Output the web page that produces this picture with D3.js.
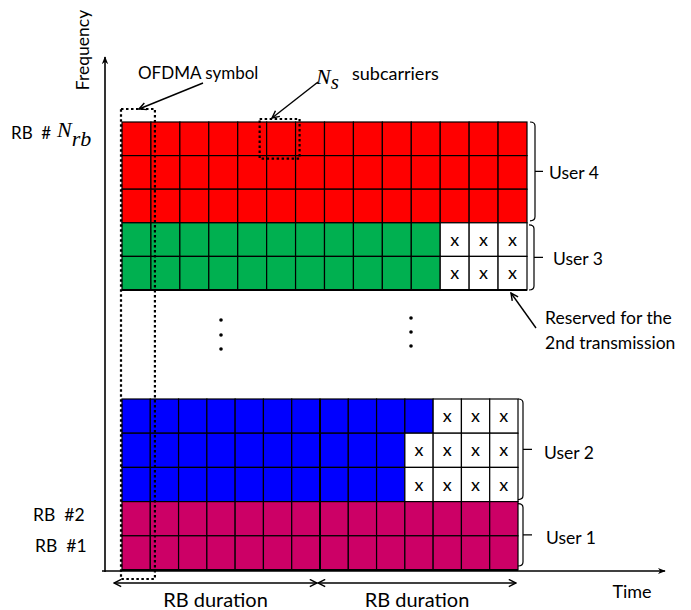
<!DOCTYPE html>
<html>
<head>
<meta charset="utf-8">
<script src="https://cdn.jsdelivr.net/npm/d3@7"></script>
<style>
  body { margin: 0; background: #fff; }
  svg { display: block; font-family: Lato, "Open Sans", sans-serif; }
  text { white-space: pre; }
</style>
</head>
<body>
<div id="chart"></div>
<script>
// OFDMA symbols in one RB-pair (two RB durations of 7 symbols)
var symbols = [1, 2, 3, 4, 5, 6, 7, 8, 9, 10, 11, 12, 13, 14];

// top block: rows from top to bottom, owner and reserved cells at the end
var topRows = ["User 4", "User 4", "User 4", "User 3", "User 3"];
var topReserved = [0, 0, 0, 3, 3];

// bottom block
var bottomRows = ["User 2", "User 2", "User 2", "User 1", "User 1"];
var bottomReserved = [3, 4, 4, 0, 0];

var userColors = {"User 1": "#CC0066", "User 2": "#0000FF", "User 3": "#00B050", "User 4": "#FF0000"};
var userNames = ["User 4", "User 3", "User 2", "User 1"];

var svg = d3.select("#chart")
  .append("svg")
  .attr("width", 691).attr("height", 610);

var defs = svg.append("defs");
defs.append("marker")
  .attr("id", "head")
  .attr("viewBox", "0 0 10 10")
  .attr("refX", 9).attr("refY", 5)
  .attr("markerWidth", 9).attr("markerHeight", 9)
  .attr("markerUnits", "userSpaceOnUse")
  .attr("orient", "auto-start-reverse")
  .append("path")
  .attr("d", "M1,1 L9,5 L1,9")
  .attr("fill", "none").attr("stroke", "#000").attr("stroke-width", 1.6);
defs.append("marker")
  .attr("id", "axhead")
  .attr("viewBox", "0 0 10 10")
  .attr("refX", 9).attr("refY", 5)
  .attr("markerWidth", 8).attr("markerHeight", 8)
  .attr("markerUnits", "userSpaceOnUse")
  .attr("orient", "auto")
  .append("path")
  .attr("d", "M0,1 L10,5 L0,9 L3,5 Z")
  .attr("fill", "#000");

// scales for the two blocks
var xTop = d3.scaleBand().domain(symbols).range([122, 527]);
var yTop = d3.scaleBand().domain(d3.range(topRows.length)).range([122, 290]);
var xBot = d3.scaleBand().domain(symbols).range([122, 518]);
var yBot = d3.scaleBand().domain(d3.range(bottomRows.length)).range([399, 570]);

function drawBlock(rows, reserved, xs, ys) {
  var cells = [];
  rows.forEach(function(u, r) {
    symbols.forEach(function(s, c) {
      cells.push({user: u, row: r, sym: s, res: c >= symbols.length - reserved[r]});
    });
  });
  var g = svg.append("g");
  g.selectAll("rect")
    .data(cells)
    .enter().append("rect")
    .attr("x", function(d) { return xs(d.sym); })
    .attr("y", function(d) { return ys(d.row); })
    .attr("width", xs.bandwidth())
    .attr("height", ys.bandwidth())
    .attr("fill", function(d) { return d.res ? "#fff" : userColors[d.user]; })
    .attr("stroke", "#000").attr("stroke-width", 1.2);
  g.selectAll("text")
    .data(cells.filter(function(d) { return d.res; }))
    .enter().append("text")
    .attr("x", function(d) { return xs(d.sym) + xs.bandwidth() / 2; })
    .attr("y", function(d) { return ys(d.row) + ys.bandwidth() / 2 + 6; })
    .attr("text-anchor", "middle")
    .attr("font-size", 18)
    .text("x");
  // thicker outline of the block bottom
  g.append("line")
    .attr("x1", xs.range()[0]).attr("x2", xs.range()[1])
    .attr("y1", ys.range()[1]).attr("y2", ys.range()[1])
    .attr("stroke", "#000").attr("stroke-width", 2);
}

drawBlock(topRows, topReserved, xTop, yTop);
drawBlock(bottomRows, bottomReserved, xBot, yBot);

// RB boundary (between symbol 7 and 8) in bottom block
svg.append("line")
  .attr("x1", xBot(8)).attr("x2", xBot(8))
  .attr("y1", yBot.range()[0]).attr("y2", yBot.range()[1])
  .attr("stroke", "#000").attr("stroke-width", 2);

// axes
svg.append("line")
  .attr("x1", 105).attr("y1", 572).attr("x2", 105).attr("y2", 57)
  .attr("stroke", "#000").attr("stroke-width", 1.6)
  .attr("marker-end", "url(#axhead)");
svg.append("line")
  .attr("x1", 102).attr("y1", 571).attr("x2", 665).attr("y2", 571)
  .attr("stroke", "#000").attr("stroke-width", 1.6)
  .attr("marker-end", "url(#axhead)");

svg.append("text")
  .attr("transform", "translate(89,50) rotate(-90)")
  .attr("text-anchor", "middle")
  .attr("font-size", 17.5)
  .text("Frequency");
svg.append("text")
  .attr("x", 632).attr("y", 598)
  .attr("text-anchor", "middle")
  .attr("font-size", 18)
  .text("Time");

// dotted boxes: OFDMA symbol column and Ns subcarriers
var dotted = "2.5,2.5";
svg.append("rect")
  .attr("x", xTop(1) - 1).attr("y", 109)
  .attr("width", xTop.bandwidth() + 5).attr("height", 579 - 109)
  .attr("fill", "none").attr("stroke", "#000").attr("stroke-width", 2.2)
  .attr("stroke-dasharray", dotted);
svg.append("rect")
  .attr("x", xTop(6) - 7).attr("y", yTop(0) - 3)
  .attr("width", xTop.bandwidth() + 11).attr("height", yTop.bandwidth() + 6)
  .attr("fill", "none").attr("stroke", "#000").attr("stroke-width", 2.2)
  .attr("stroke-dasharray", dotted);

// annotation arrows
function arrow(x1, y1, x2, y2) {
  svg.append("line")
    .attr("x1", x1).attr("y1", y1).attr("x2", x2).attr("y2", y2)
    .attr("stroke", "#000").attr("stroke-width", 1.4)
    .attr("marker-end", "url(#head)");
}
arrow(203, 83, 139, 109);
arrow(318, 82, 272, 118);
arrow(536, 328, 511, 293);

svg.append("text")
  .attr("x", 138).attr("y", 79)
  .attr("font-size", 17)
  .text("OFDMA symbol");

// N_s subcarriers
var ns = svg.append("text").attr("x", 316).attr("y", 84);
ns.append("tspan")
  .attr("font-family", "'Liberation Serif', 'DejaVu Serif', serif")
  .attr("font-style", "italic").attr("font-size", 22)
  .text("N");
ns.append("tspan")
  .attr("font-family", "'Liberation Serif', 'DejaVu Serif', serif")
  .attr("font-style", "italic").attr("font-size", 21)
  .attr("dy", 5)
  .text("s");
svg.append("text")
  .attr("x", 352).attr("y", 80)
  .attr("font-size", 18)
  .text("subcarriers");

// RB labels
svg.append("text")
  .attr("x", 11).attr("y", 139)
  .attr("font-size", 17)
  .text("RB  #");
var nrb = svg.append("text").attr("x", 57).attr("y", 137);
nrb.append("tspan")
  .attr("font-family", "'Liberation Serif', 'DejaVu Serif', serif")
  .attr("font-style", "italic").attr("font-size", 22)
  .text("N");
nrb.append("tspan")
  .attr("font-family", "'Liberation Serif', 'DejaVu Serif', serif")
  .attr("font-style", "italic").attr("font-size", 22)
  .attr("dy", 9)
  .text("rb");
svg.append("text")
  .attr("x", 33).attr("y", 521)
  .attr("font-size", 17.5)
  .text("RB  #2");
svg.append("text")
  .attr("x", 35).attr("y", 552)
  .attr("font-size", 17.5)
  .text("RB  #1");

// vertical ellipsis
var dotXs = [221, 411];
var dotYs = [[320, 335, 349], [318, 332, 346]];
dotXs.forEach(function(x, i) {
  svg.selectAll(null)
    .data(dotYs[i])
    .enter().append("circle")
    .attr("cx", x).attr("cy", function(d) { return d; })
    .attr("r", 1.8).attr("fill", "#000");
});

// braces for users
function brace(x0, y0, y1, tick) {
  var x1 = x0 + 5, mid = (y0 + y1) / 2;
  svg.append("path")
    .attr("d", "M" + x0 + "," + y0 + " Q" + x1 + "," + y0 + " " + x1 + "," + (y0 + 4) +
      " L" + x1 + "," + (y1 - 4) + " Q" + x1 + "," + y1 + " " + x0 + "," + y1 +
      " M" + x1 + "," + mid + " L" + (x1 + tick) + "," + mid)
    .attr("fill", "none").attr("stroke", "#000").attr("stroke-width", 1.2);
}
brace(530, yTop(0), yTop(3) - 2, 8);
brace(529, yTop(3) + 2, yTop.range()[1], 9);
brace(518, yBot(0), yBot(3) - 2, 9);
brace(518, yBot(3) + 2, yBot.range()[1] - 4, 9);

var userLabels = [[549, 179], [553, 265], [544, 459], [546, 544]];
userNames.forEach(function(u, i) {
  svg.append("text")
    .attr("x", userLabels[i][0]).attr("y", userLabels[i][1])
    .attr("font-size", 17.5)
    .text(u);
});

svg.append("text")
  .attr("x", 545).attr("y", 324)
  .attr("font-size", 17.5)
  .text("Reserved for the");
svg.append("text")
  .attr("x", 545).attr("y", 349)
  .attr("font-size", 17.5)
  .text("2nd transmission");

// RB duration double arrows
[[xBot(1) - 8, xBot(8) - 3], [xBot(8) - 2, xBot(14) + xBot.bandwidth() - 2]].forEach(function(p) {
  svg.append("line")
    .attr("x1", p[0]).attr("x2", p[1]).attr("y1", 583).attr("y2", 583)
    .attr("stroke", "#000").attr("stroke-width", 1.4)
    .attr("marker-start", "url(#head)")
    .attr("marker-end", "url(#head)");
  svg.append("text")
    .attr("x", (p[0] + p[1]) / 2).attr("y", 607)
    .attr("text-anchor", "middle")
    .attr("font-size", 20)
    .text("RB duration");
});
</script>
</body>
</html>
